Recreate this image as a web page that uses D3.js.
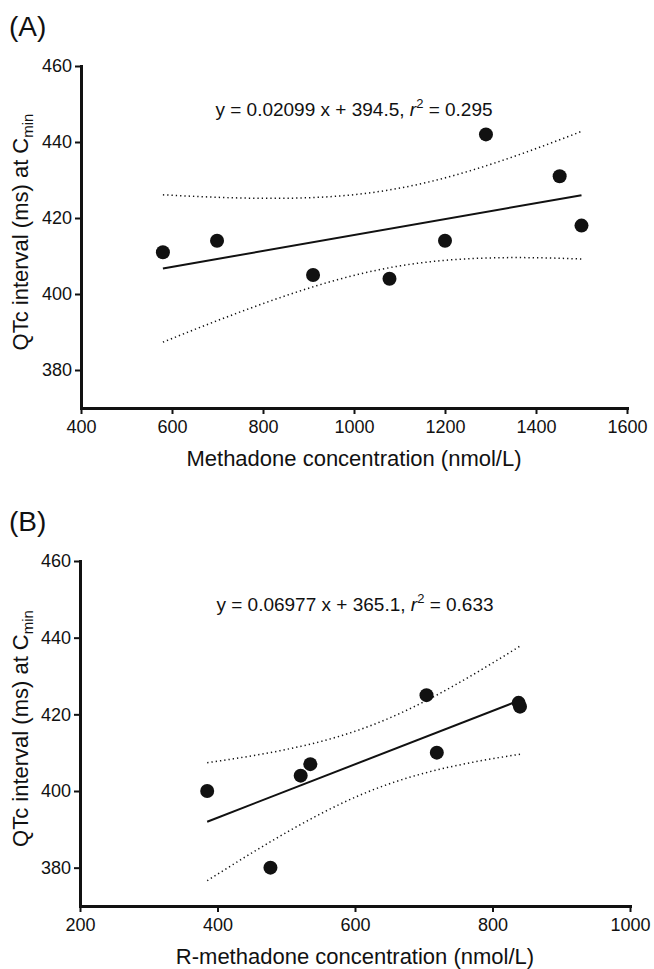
<!DOCTYPE html>
<html lang="en">
<head>
<meta charset="UTF-8">
<title>QTc vs methadone concentration</title>
<script src="https://d3js.org/d3.v7.min.js"></script>
<style>
  body { margin: 0; background: #fff; }
  svg { display: block; font-family: "Liberation Sans", Arial, Helvetica, sans-serif; }
  .axis path, .axis line { stroke: #111; }
  .axis text { fill: #111; font-size: 18px; font-family: "Liberation Sans", Arial, sans-serif; }
</style>
</head>
<body>
<svg id="chart" width="654" height="969"></svg>
<script>
// panel A: total methadone
const methadoneConc = [580, 699, 910, 1078, 1200, 1290, 1452, 1500];
const qtcA = [411, 414, 405, 404, 414, 442, 431, 418];
const xTicksA = [400, 600, 800, 1000, 1200, 1400, 1600];

// panel B: R-methadone
const rMethadoneConc = [385, 477, 521, 535, 704, 719, 838, 840];
const qtcB = [400, 380, 404, 407, 425, 410, 423, 422];
const xTicksB = [200, 400, 600, 800, 1000];

const yTicks = [380, 400, 420, 440, 460];
const eqA = ["y = 0.02099 x + 394.5, ", "0.295"];
const eqB = ["y = 0.06977 x + 365.1, ", "0.633"];
const T_CRIT = 2.4469; // t(0.975, df = 6)

const svg = d3.select("#chart");
const ink = "#111";

// least squares fit + 95% confidence band of the line
function fit(xs, ys) {
  const n = xs.length;
  const mx = d3.mean(xs), my = d3.mean(ys);
  const sxx = d3.sum(xs, x => (x - mx) ** 2);
  const sxy = d3.sum(xs, (x, i) => (x - mx) * (ys[i] - my));
  const b = sxy / sxx, a = my - b * mx;
  const sse = d3.sum(xs, (x, i) => (ys[i] - (a + b * x)) ** 2);
  const s = Math.sqrt(sse / (n - 2));
  const half = x => T_CRIT * s * Math.sqrt(1 / n + (x - mx) ** 2 / sxx);
  return { a, b, half };
}

function panel(opt) {
  const g = svg.append("g");
  const x = d3.scaleLinear().domain(opt.xDomain).range([opt.left, opt.right]);
  const y = d3.scaleLinear().domain([370, 460]).range([opt.bottom, opt.top]);

  g.append("text")
    .attr("x", 9).attr("y", opt.top - 30)
    .attr("font-size", 28).attr("fill", ink)
    .text(opt.letter);

  const xAxis = g.append("g").attr("class", "axis")
    .attr("transform", `translate(0,${opt.bottom})`)
    .call(d3.axisBottom(x).tickValues(opt.xTicks).tickSize(6).tickSizeOuter(0).tickPadding(6).tickFormat(d3.format("d")));
  const yAxis = g.append("g").attr("class", "axis")
    .attr("transform", `translate(${opt.left},0)`)
    .call(d3.axisLeft(y).tickValues(yTicks).tickSize(6).tickSizeOuter(0).tickPadding(3));
  [xAxis, yAxis].forEach(ax => {
    ax.select(".domain").attr("stroke-width", 3).attr("stroke-linecap", "square");
    ax.selectAll(".tick line").attr("stroke-width", 2);
  });

  // axis titles
  g.append("text")
    .attr("x", (opt.left + opt.right) / 2).attr("y", opt.bottom + 58)
    .attr("text-anchor", "middle").attr("font-size", 22).attr("fill", ink)
    .text(opt.xTitle);

  const yt = g.append("text")
    .attr("transform", `translate(28,${(opt.top + opt.bottom) / 2 - 5}) rotate(-90)`)
    .attr("text-anchor", "middle").attr("font-size", 22).attr("fill", ink);
  yt.append("tspan").text("QTc interval (ms) at C");
  yt.append("tspan").attr("font-size", 15).attr("dy", 5).text("min");

  // equation
  const eq = g.append("text")
    .attr("x", (opt.left + opt.right) / 2).attr("y", opt.top + 50)
    .attr("text-anchor", "middle").attr("font-size", 19).attr("fill", ink);
  eq.append("tspan").text(opt.eq[0]);
  eq.append("tspan").attr("font-style", "italic").text("r");
  eq.append("tspan").attr("font-size", 13).attr("dy", -8).text("2");
  eq.append("tspan").attr("dy", 8).text(" = " + opt.eq[1]);

  // regression line and confidence band
  const f = fit(opt.xs, opt.ys);
  const [x0, x1] = d3.extent(opt.xs);
  const grid = d3.range(0, 61).map(i => x0 + (x1 - x0) * i / 60);
  const line = d3.line().x(d => x(d[0])).y(d => y(d[1]));

  g.append("path")
    .attr("d", line([[x0, f.a + f.b * x0], [x1, f.a + f.b * x1]]))
    .attr("fill", "none").attr("stroke", ink).attr("stroke-width", 2);

  [1, -1].forEach(sgn => {
    g.append("path")
      .attr("d", line(grid.map(v => [v, f.a + f.b * v + sgn * f.half(v)])))
      .attr("fill", "none").attr("stroke", ink)
      .attr("stroke-width", 1.5).attr("stroke-dasharray", "1.3,3");
  });

  g.selectAll("circle.pt").data(opt.xs).enter().append("circle")
    .attr("class", "pt")
    .attr("cx", d => x(d))
    .attr("cy", (d, i) => y(opt.ys[i]))
    .attr("r", 7).attr("fill", ink);
}

panel({
  letter: "(A)", left: 81, right: 627, top: 66, bottom: 408,
  xDomain: [400, 1600], xTicks: xTicksA,
  xs: methadoneConc, ys: qtcA, eq: eqA,
  xTitle: "Methadone concentration (nmol/L)"
});

panel({
  letter: "(B)", left: 80, right: 630, top: 561, bottom: 906,
  xDomain: [200, 1000], xTicks: xTicksB,
  xs: rMethadoneConc, ys: qtcB, eq: eqB,
  xTitle: "R-methadone concentration (nmol/L)"
});
</script>
</body>
</html>
